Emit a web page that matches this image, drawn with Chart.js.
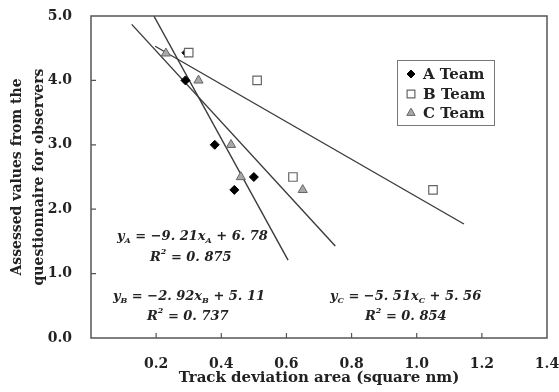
<!DOCTYPE html>
<html>
<head>
<meta charset="utf-8">
<script src="https://cdn.jsdelivr.net/npm/chart.js@4"></script>
<style>
    body { margin: 0; background: #fff; }
</style>
</head>
<body>
<canvas id="chart" width="559" height="392"></canvas>
<script>
// Values
const teamAx = [0.293, 0.29, 0.38, 0.44, 0.50];
const teamAy = [4.43, 4.0, 3.0, 2.3, 2.5];
const teamBx = [0.30, 0.51, 0.62, 1.05];
const teamBy = [4.43, 4.0, 2.5, 2.3];
const teamCx = [0.23, 0.33, 0.43, 0.46, 0.65];
const teamCy = [4.42, 4.0, 3.0, 2.5, 2.3];

// Regression lines (end points as drawn)
const fitAx = [0.193, 0.605];
const fitAy = [5.0, 1.21];
const fitBx = [0.197, 1.145];
const fitBy = [4.53, 1.77];
const fitCx = [0.125, 0.75];
const fitCy = [4.87, 1.43];

const xTicks = [0, 0.2, 0.4, 0.6, 0.8, 1.0, 1.2, 1.4];
const yTicks = [0, 1, 2, 3, 4, 5];

const teamNames = ['A Team', 'B Team', 'C Team'];

const toPoints = (xs, ys) => xs.map((x, i) => ({ x: x, y: ys[i] }));

const SERIF = '"DejaVu Serif", "Liberation Serif", serif';
const FRAME = '#555';

const markerA = { pointStyle: 'rectRot', radius: 4.5, bg: '#000', border: '#000', bw: 1 };
const markerB = { pointStyle: 'rect', radius: 6, bg: '#fff', border: '#666', bw: 1.2 };
const markerC = { pointStyle: 'triangle', radius: 5.3, bg: '#a8a8a8', border: '#666', bw: 1 };

function scatterSet(label, xs, ys, m, order) {
    return {
        label: label,
        data: toPoints(xs, ys),
        pointStyle: m.pointStyle,
        pointRadius: m.radius,
        pointBackgroundColor: m.bg,
        pointBorderColor: m.border,
        pointBorderWidth: m.bw,
        showLine: false,
        order: order
    };
}

function fitSet(xs, ys) {
    return {
        label: 'fit',
        data: toPoints(xs, ys),
        showLine: true,
        borderColor: '#3a3a3a',
        borderWidth: 1.4,
        pointRadius: 0,
        order: 10
    };
}

// equations: list of [text, kind]
const equations = [
    { x: 117, y: 240, parts: [['y', ''], ['A', 'sub'], [' = \u22129. 21x', ''], ['A', 'sub'], [' + 6. 78', '']] },
    { x: 150, y: 261, parts: [['R', ''], ['2', 'sup'], [' = 0. 875', '']] },
    { x: 113, y: 300, parts: [['y', ''], ['B', 'sub'], [' = \u22122. 92x', ''], ['B', 'sub'], [' + 5. 11', '']] },
    { x: 147, y: 320, parts: [['R', ''], ['2', 'sup'], [' = 0. 737', '']] },
    { x: 330, y: 300, parts: [['y', ''], ['C', 'sub'], [' = \u22125. 51x', ''], ['C', 'sub'], [' + 5. 56', '']] },
    { x: 365, y: 320, parts: [['R', ''], ['2', 'sup'], [' = 0. 854', '']] }
];

function drawEquation(ctx, eq) {
    let x = eq.x;
    ctx.fillStyle = '#222';
    ctx.textBaseline = 'alphabetic';
    ctx.textAlign = 'left';
    eq.parts.forEach(([text, kind]) => {
        let dy = 0;
        if (kind === 'sub') {
            ctx.font = 'italic bold 8px ' + SERIF;
            dy = 3;
        } else if (kind === 'sup') {
            ctx.font = 'italic bold 8px ' + SERIF;
            dy = -7;
        } else {
            ctx.font = 'italic bold 13px ' + SERIF;
        }
        ctx.fillText(text, x, eq.y + dy);
        x += ctx.measureText(text).width;
    });
}

const decorPlugin = {
    id: 'decor',
    afterDatasetsDraw(chart) {
        const ctx = chart.ctx;
        const xs = chart.scales.x;
        const ys = chart.scales.y;
        const left = xs.getPixelForValue(xTicks[0]);
        const right = xs.getPixelForValue(xTicks[xTicks.length - 1]);
        const top = ys.getPixelForValue(yTicks[yTicks.length - 1]);
        const bottom = ys.getPixelForValue(yTicks[0]);
        ctx.save();

        // frame
        ctx.strokeStyle = FRAME;
        ctx.lineWidth = 1.5;
        ctx.strokeRect(left, top, right - left, bottom - top);

        // inward tick marks
        ctx.lineWidth = 1.2;
        ctx.beginPath();
        xTicks.slice(1, -1).forEach(v => {
            const px = xs.getPixelForValue(v);
            ctx.moveTo(px, bottom);
            ctx.lineTo(px, bottom - 5);
        });
        yTicks.slice(1, -1).forEach(v => {
            const py = ys.getPixelForValue(v);
            ctx.moveTo(left, py);
            ctx.lineTo(left + 5, py);
        });
        ctx.stroke();

        // equations
        equations.forEach(eq => drawEquation(ctx, eq));

        // legend box
        ctx.fillStyle = '#fff';
        ctx.fillRect(397, 60, 97, 65);
        ctx.strokeStyle = '#777';
        ctx.lineWidth = 1;
        ctx.strokeRect(397.5, 60.5, 97, 65);
        const markers = [markerA, markerB, markerC];
        const rows = [74, 94, 113];
        ctx.font = 'bold 15px ' + SERIF;
        ctx.textBaseline = 'middle';
        ctx.textAlign = 'left';
        teamNames.forEach((name, i) => {
            const m = markers[i];
            ctx.fillStyle = m.bg;
            ctx.strokeStyle = m.border;
            ctx.lineWidth = m.bw;
            Chart.helpers.drawPoint(ctx, { pointStyle: m.pointStyle, radius: m.radius - 0.5, borderWidth: m.bw }, 411, rows[i]);
            ctx.fillStyle = '#222';
            ctx.fillText(name, 423, rows[i] + 1);
        });

        ctx.restore();
    }
};

new Chart(document.getElementById('chart'), {
    type: 'scatter',
    data: {
        datasets: [
            scatterSet(teamNames[0], teamAx, teamAy, markerA, 3),
            scatterSet(teamNames[1], teamBx, teamBy, markerB, 1),
            scatterSet(teamNames[2], teamCx, teamCy, markerC, 2),
            fitSet(fitAx, fitAy),
            fitSet(fitBx, fitBy),
            fitSet(fitCx, fitCy)
        ]
    },
    options: {
        responsive: false,
        animation: false,
        devicePixelRatio: 1,
        layout: { padding: { top: 16, right: 12, left: 0, bottom: 0 } },
        plugins: {
            legend: { display: false },
            tooltip: { enabled: false }
        },
        scales: {
            x: {
                type: 'linear',
                min: 0,
                max: 1.4,
                afterBuildTicks: s => { s.ticks = xTicks.map(v => ({ value: v })); },
                afterFit: s => {
                    s.height = 54;
                    s.paddingLeft = 0;
                    s.paddingRight = 0;
                },
                grid: { display: false, drawTicks: false },
                border: { display: false },
                ticks: {
                    padding: 18,
                    color: '#222',
                    font: { family: SERIF, size: 14, weight: 'bold' },
                    callback: v => v < 0.01 ? '' : v.toFixed(1)
                },
                title: {
                    display: true,
                    text: 'Track deviation area (square nm)',
                    color: '#222',
                    font: { family: SERIF, size: 15, weight: 'bold' },
                    padding: { top: 0, bottom: 5 }
                }
            },
            y: {
                type: 'linear',
                min: 0,
                max: 5,
                afterBuildTicks: s => { s.ticks = yTicks.map(v => ({ value: v })); },
                afterFit: s => {
                    s.width = 91;
                    s.paddingTop = 0;
                    s.paddingBottom = 0;
                },
                grid: { display: false, drawTicks: false },
                border: { display: false },
                ticks: {
                    padding: 19,
                    color: '#222',
                    font: { family: SERIF, size: 14, weight: 'bold' },
                    callback: v => v.toFixed(1)
                },
                title: {
                    display: true,
                    text: ['Assessed values from the', 'questionnaire for observers'],
                    color: '#222',
                    font: { family: SERIF, size: 14, weight: 'bold', lineHeight: 1.55 },
                    padding: { top: 7, bottom: 0 }
                }
            }
        }
    },
    plugins: [decorPlugin]
});
</script>
</body>
</html>
